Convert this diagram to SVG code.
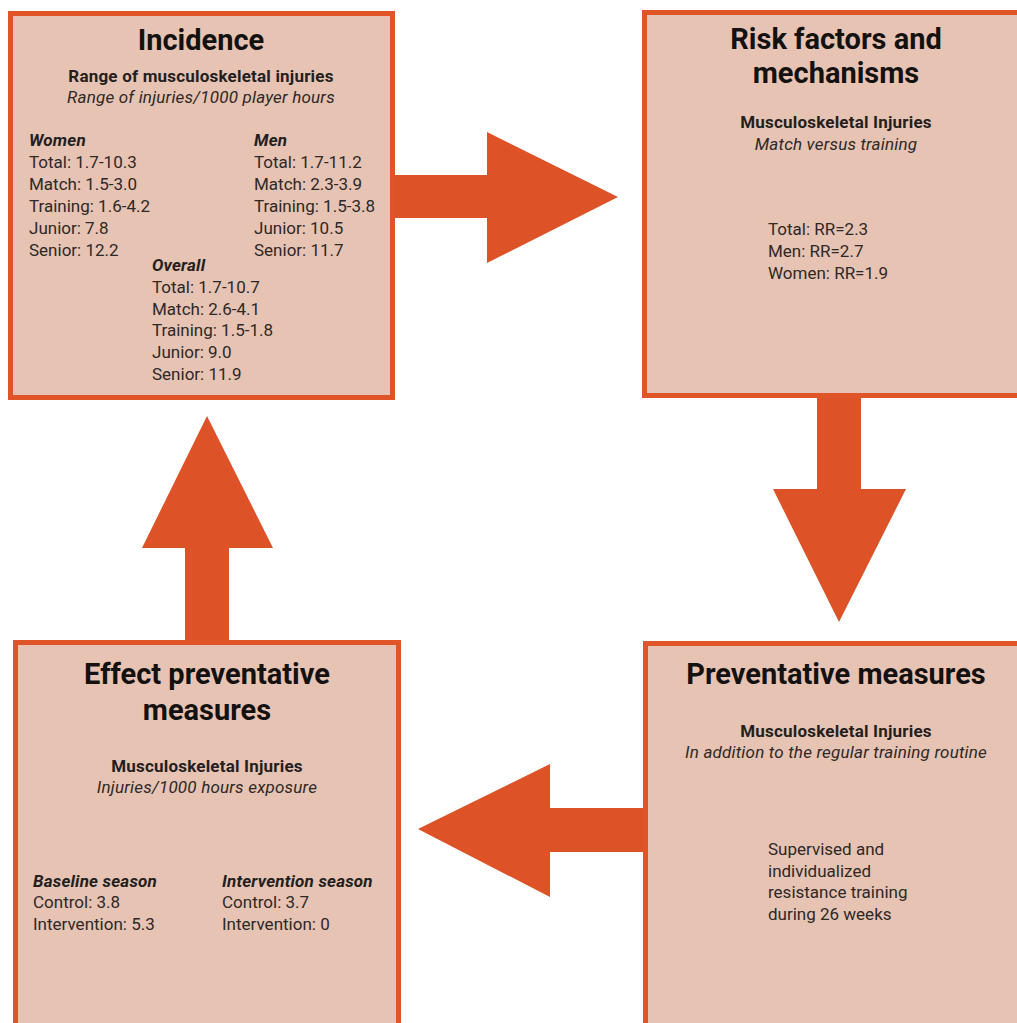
<svg xmlns="http://www.w3.org/2000/svg" width="1017" height="1023" viewBox="0 0 1017 1023">
  <style>
    .box { fill: #e7c3b4; stroke: #df5528; stroke-width: 5; }
    .arrow { fill: #dd5226; }
    text { font-family: Roboto, "Liberation Sans", sans-serif; fill: #231f1e; }
    .title { font-size: 29px; font-weight: 700; text-anchor: middle; fill: #141111; }
    .sub { font-size: 17px; font-weight: 700; text-anchor: middle; letter-spacing: 0.2px; }
    .note { font-size: 17px; font-style: italic; text-anchor: middle; fill: #2e2826; letter-spacing: 0.2px; }
    .head { font-size: 17px; font-weight: 700; font-style: italic; letter-spacing: 0.2px; }
    .val { font-size: 17px; fill: #2e2826; }
  </style>
  <rect width="1017" height="1023" fill="#ffffff"/>

  <!-- block arrows joining the four stages -->
  <g id="connectors">
    <polygon class="arrow" points="393,175 487,175 487,132 618,197 487,263 487,218 393,218"/>
    <polygon class="arrow" points="817,396 861,396 861,489 906,489 839,622 773,489 817,489"/>
    <polygon class="arrow" points="645,808 550,808 550,764 418,829 550,897 550,852 645,852"/>
    <polygon class="arrow" points="185,642 185,548 142,548 207,416 273,548 229,548 229,642"/>
  </g>

  <g id="incidence">
    <rect class="box" x="10.5" y="13.5" width="382" height="384"/>
    <text class="title" x="201" y="50">Incidence</text>
    <text class="sub" x="201" y="82">Range of musculoskeletal injuries</text>
    <text class="note" x="201" y="103">Range of injuries/1000 player hours</text>
    <text class="head" x="29" y="146">Women</text>
    <text class="val" x="29" y="168">Total: 1.7-10.3</text>
    <text class="val" x="29" y="190">Match: 1.5-3.0</text>
    <text class="val" x="29" y="212">Training: 1.6-4.2</text>
    <text class="val" x="29" y="234">Junior: 7.8</text>
    <text class="val" x="29" y="256">Senior: 12.2</text>
    <text class="head" x="254" y="146">Men</text>
    <text class="val" x="254" y="168">Total: 1.7-11.2</text>
    <text class="val" x="254" y="190">Match: 2.3-3.9</text>
    <text class="val" x="254" y="212">Training: 1.5-3.8</text>
    <text class="val" x="254" y="234">Junior: 10.5</text>
    <text class="val" x="254" y="256">Senior: 11.7</text>
    <text class="head" x="152" y="271">Overall</text>
    <text class="val" x="152" y="293">Total: 1.7-10.7</text>
    <text class="val" x="152" y="315">Match: 2.6-4.1</text>
    <text class="val" x="152" y="336">Training: 1.5-1.8</text>
    <text class="val" x="152" y="358">Junior: 9.0</text>
    <text class="val" x="152" y="380">Senior: 11.9</text>
  </g>

  <g id="risk-factors">
    <rect class="box" x="644.5" y="12.5" width="386" height="383"/>
    <text class="title" x="836" y="49">Risk factors and</text>
    <text class="title" x="836" y="83">mechanisms</text>
    <text class="sub" x="836" y="128">Musculoskeletal Injuries</text>
    <text class="note" x="836" y="150">Match versus training</text>
    <text class="val" x="768" y="235">Total: RR=2.3</text>
    <text class="val" x="768" y="257">Men: RR=2.7</text>
    <text class="val" x="768" y="279">Women: RR=1.9</text>
  </g>

  <g id="preventative-measures">
    <rect class="box" x="645.5" y="643.5" width="386" height="400"/>
    <text class="title" x="836" y="684">Preventative measures</text>
    <text class="sub" x="836" y="737">Musculoskeletal Injuries</text>
    <text class="note" x="836" y="758">In addition to the regular training routine</text>
    <text class="val" x="768" y="855">Supervised and</text>
    <text class="val" x="768" y="877">individualized</text>
    <text class="val" x="768" y="898">resistance training</text>
    <text class="val" x="768" y="920">during 26 weeks</text>
  </g>

  <g id="effect-preventative-measures">
    <rect class="box" x="15.5" y="642.5" width="383" height="400"/>
    <text class="title" x="207" y="684">Effect preventative</text>
    <text class="title" x="207" y="720">measures</text>
    <text class="sub" x="207" y="772">Musculoskeletal Injuries</text>
    <text class="note" x="207" y="793">Injuries/1000 hours exposure</text>
    <text class="head" x="33" y="887">Baseline season</text>
    <text class="val" x="33" y="908">Control: 3.8</text>
    <text class="val" x="33" y="930">Intervention: 5.3</text>
    <text class="head" x="222" y="887">Intervention season</text>
    <text class="val" x="222" y="908">Control: 3.7</text>
    <text class="val" x="222" y="930">Intervention: 0</text>
  </g>
</svg>
